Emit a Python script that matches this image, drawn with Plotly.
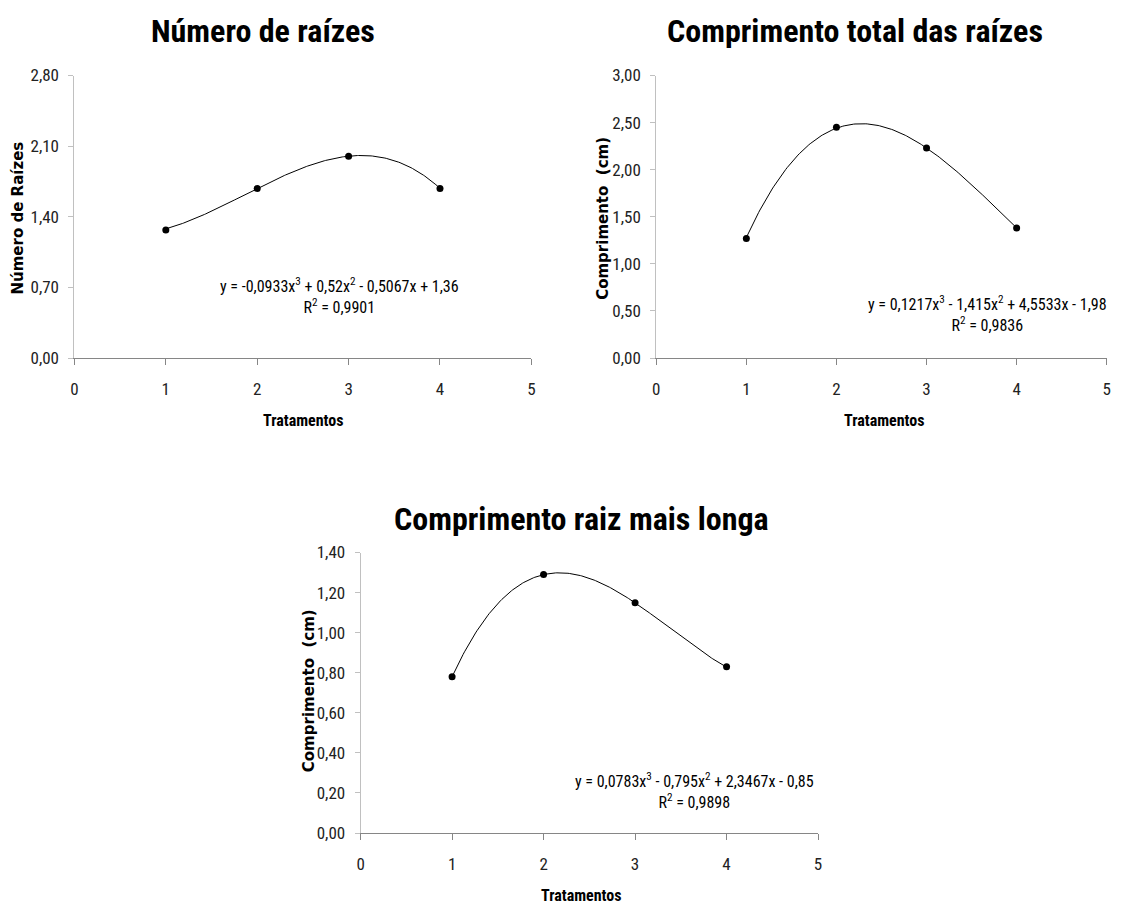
import numpy as np
import plotly.graph_objects as go

# ---- data ----
tratamentos = [1, 2, 3, 4]
numero_raizes = [1.27, 1.68, 2.00, 1.68]
comp_total = [1.27, 2.45, 2.23, 1.38]
comp_longa = [0.78, 1.29, 1.15, 0.83]

# trendline coefficients (as printed on the chart: x^3, x^2, x, const)
coef_numero = [-0.0933, 0.52, -0.5067, 1.36]
coef_total = [0.1217, -1.415, 4.5533, -1.98]
coef_longa = [0.0783, -0.795, 2.3467, -0.85]

eq_numero = "y = -0,0933x<sup>3</sup> + 0,52x<sup>2</sup> - 0,5067x + 1,36<br>R<sup>2</sup> = 0,9901"
eq_total = "y = 0,1217x<sup>3</sup> - 1,415x<sup>2</sup> + 4,5533x - 1,98<br>R<sup>2</sup> = 0,9836"
eq_longa = "y = 0,0783x<sup>3</sup> - 0,795x<sup>2</sup> + 2,3467x - 0,85<br>R<sup>2</sup> = 0,9898"

titles = ["Número de raízes", "Comprimento total das raízes", "Comprimento raiz mais longa"]
ytitles = ["Número de Raízes", "Comprimento  (cm)", "Comprimento  (cm)"]
xtitle = "Tratamentos"
y_ranges = [[0, 2.8], [0, 3.0], [0, 1.4]]
y_dticks = [0.7, 0.5, 0.2]

W, H = 1118, 912
# mapping from target-picture pixels to figure pixels (measured page offset/scale)
AX, BX, AY, BY = 0.994, 11.0, 0.978, 17.5
NARROW = "Liberation Sans Narrow, Arial Narrow, Roboto Condensed, sans-serif"
BOLDY = "DejaVu Sans, Verdana, sans-serif"


def px(x):
    return min(1.0, max(0.0, (x - BX) / AX / W))


def py(y):
    return min(1.0, max(0.0, 1 - (y - BY) / AY / H))


# plot area boxes in picture coords: (left, right, top, bottom)
boxes = [(73.5, 531, 75, 357.5), (656, 1107, 75, 357.5), (360, 818, 552, 832.5)]

fig = go.Figure()
datasets = [numero_raizes, comp_total, comp_longa]
coefs = [coef_numero, coef_total, coef_longa]
eqs = [eq_numero, eq_total, eq_longa]

xfit = np.linspace(1, 4, 200)
for i in range(3):
    xa = "x" if i == 0 else f"x{i+1}"
    ya = "y" if i == 0 else f"y{i+1}"
    fig.add_trace(go.Scatter(x=xfit, y=np.polyval(coefs[i], xfit), mode="lines",
                             line=dict(color="black", width=1), xaxis=xa, yaxis=ya,
                             showlegend=False, hoverinfo="skip"))
    fig.add_trace(go.Scatter(x=tratamentos, y=datasets[i], mode="markers",
                             marker=dict(color="black", size=7), xaxis=xa, yaxis=ya,
                             showlegend=False))
    l, r, t, b = boxes[i]
    xkey = "xaxis" if i == 0 else f"xaxis{i+1}"
    ykey = "yaxis" if i == 0 else f"yaxis{i+1}"
    fig.update_layout(**{
        xkey: dict(domain=[px(l), px(r)], range=[0, 5], anchor=ya, tickmode="linear",
                   tick0=0, dtick=1, showgrid=False, zeroline=False, showline=True,
                   linecolor="#868686", linewidth=1, ticks="outside", ticklen=6,
                   tickcolor="#868686", ticklabelstandoff=10,
                   tickfont=dict(family=NARROW, size=17, color="#222")),
        ykey: dict(domain=[py(b), py(t)], range=y_ranges[i], anchor=xa, tickmode="linear",
                   tick0=0, dtick=y_dticks[i], tickformat=".2f", showgrid=False,
                   zeroline=False, showline=True, linecolor="#c0c0c0", linewidth=1,
                   ticks="outside", ticklen=5, tickcolor="#c0c0c0", ticklabelstandoff=6,
                   tickfont=dict(family=NARROW, size=17, color="#222")),
    })

ann = []
# titles
for txt, (x, y) in zip(titles, [(262, 30), (855, 30), (581, 518)]):
    ann.append(dict(text=f"<b>{txt}</b>", x=px(x), y=py(y), xref="paper", yref="paper",
                    showarrow=False, font=dict(family=NARROW, size=32, color="black"),
                    xanchor="center", yanchor="middle"))
# x titles
for (x, y) in [(303, 420), (885, 420), (581, 895)]:
    ann.append(dict(text=f"<b>{xtitle}</b>", x=px(x), y=py(y), xref="paper", yref="paper",
                    showarrow=False, font=dict(family=NARROW, size=16, color="black"),
                    xanchor="center", yanchor="middle"))
# y titles
for txt, (x, y) in zip(ytitles, [(17, 217), (602, 218), (308, 690)]):
    ann.append(dict(text=f"<b>{txt}</b>", x=px(x), y=py(y), xref="paper", yref="paper",
                    showarrow=False, textangle=-90,
                    font=dict(family=BOLDY, size=15, color="black"),
                    xanchor="center", yanchor="middle"))
# equations
for txt, (x, y) in zip(eqs, [(339, 295), (988, 313), (694, 790)]):
    ann.append(dict(text=txt, x=px(x), y=py(y), xref="paper", yref="paper",
                    showarrow=False, align="center",
                    font=dict(family=NARROW, size=16, color="black"),
                    xanchor="center", yanchor="middle"))

fig.update_layout(width=W, height=H, margin=dict(l=0, r=0, t=0, b=0),
                  plot_bgcolor="white", paper_bgcolor="white", separators=",.",
                  annotations=ann)

fig.write_html("out.html")
